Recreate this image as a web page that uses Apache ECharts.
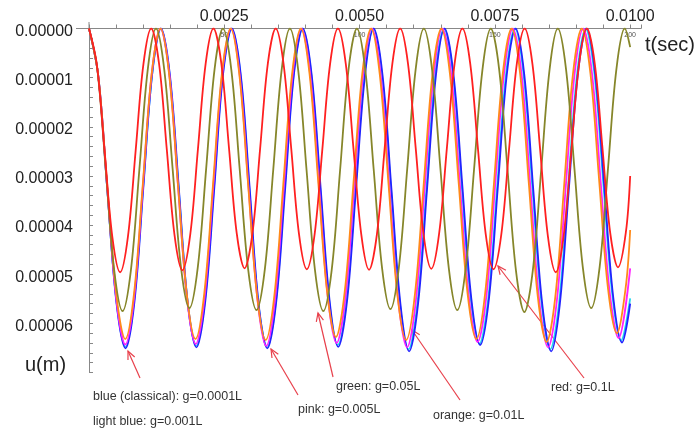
<!DOCTYPE html>
<html>
<head>
<meta charset="utf-8">
<script src="https://cdn.jsdelivr.net/npm/echarts@6/dist/echarts.min.js"></script>
<style>
  html, body { margin: 0; padding: 0; background: #fff; }
  #chart { width: 695px; height: 430px; }
</style>
</head>
<body>
<div id="chart"></div>
<script>
// time step of the solver (s); x values below are step indices
const DT = 0.00005

// red: g=0.1L  (t in steps, u in micrometres)
const redT = [0, 2.9, 5.75, 8.6, 11.5, 14.4, 17.25, 20.1,
  23, 25.9, 28.75, 31.6, 34.5, 37.4, 40.25, 43.1,
  46, 48.9, 51.75, 54.6, 57.5, 60.4, 63.25, 66.1,
  69, 71.9, 74.75, 77.6, 80.5, 83.4, 86.25, 89.1,
  92, 94.9, 97.75, 100.6, 103.5, 106.4, 109.25, 112.1,
  115, 117.9, 120.75, 123.6, 126.5, 129.4, 132.25, 135.1,
  138, 140.9, 143.75, 146.6, 149.5, 152.4, 155.25, 158.1,
  161, 163.9, 166.75, 169.6, 172.5, 175.4, 178.25, 181.1,
  184, 186.9, 189.75, 192.6, 195.5, 198.4, 200]
const redU = [0, 7.3, 24.8, 42.3, 49.6, 42.3, 24.8, 7.3,
  0, 7.2, 24.6, 42.0, 49.2, 42.0, 24.6, 7.2,
  0, 7.1, 24.4, 41.7, 48.8, 41.7, 24.4, 7.1,
  0, 7.2, 24.5, 41.8, 49.0, 41.8, 24.5, 7.2,
  0, 7.2, 24.5, 41.8, 49.1, 41.9, 24.5, 7.2,
  0, 7.2, 24.4, 41.7, 48.9, 41.7, 24.4, 7.2,
  0, 7.2, 24.5, 41.8, 49.0, 41.8, 24.5, 7.2,
  0, 7.3, 24.8, 42.3, 49.6, 42.3, 24.8, 7.3,
  0, 7.1, 24.3, 41.5, 48.6, 41.5, 30.0]

// green: g=0.05L
const greenT = [0, 3.1, 6.2, 9.3, 12.4, 15.5, 18.6, 21.7,
  24.75, 27.8, 30.9, 34.0, 37.1, 40.2, 43.3, 46.4,
  49.5, 52.6, 55.7, 58.8, 61.9, 65.0, 68.1, 71.2,
  74.25, 77.3, 80.4, 83.5, 86.6, 89.7, 92.8, 95.9,
  99, 102.1, 105.2, 108.3, 111.4, 114.5, 117.6, 120.7,
  123.75, 126.8, 129.9, 133.0, 136.1, 139.2, 142.3, 145.4,
  148.5, 151.6, 154.7, 157.8, 160.9, 164.0, 167.1, 170.2,
  173.25, 176.3, 179.4, 182.5, 185.6, 188.7, 191.8, 194.9,
  198, 200]
const greenU = [0, 8.4, 28.8, 49.1, 57.5, 49.1, 28.8, 8.4,
  0, 8.3, 28.5, 48.6, 56.9, 48.6, 28.5, 8.3,
  0, 8.4, 28.7, 48.9, 57.3, 48.9, 28.7, 8.4,
  0, 8.4, 28.8, 49.1, 57.5, 49.1, 28.8, 8.4,
  0, 8.4, 28.6, 48.7, 57.1, 48.7, 28.6, 8.4,
  0, 8.4, 28.7, 48.9, 57.3, 48.9, 28.7, 8.4,
  0, 8.4, 28.9, 49.3, 57.7, 49.3, 28.9, 8.4,
  0, 8.3, 28.5, 48.6, 56.9, 48.6, 28.5, 8.3,
  0, 3.8]

// blue (classical): g=0.0001L
const blueT = [0, 3.4, 6.75, 10.1, 13.5, 16.8, 20.05, 23.3,
  26.6, 29.9, 33.2, 36.4, 39.7, 43.0, 46.3, 49.5,
  52.8, 56.1, 59.4, 62.6, 65.9, 69.2, 72.5, 75.7,
  79.0, 82.3, 85.6, 88.9, 92.1, 95.4, 98.7, 102.0,
  105.2, 108.5, 111.8, 115.1, 118.3, 121.6, 124.9, 128.2,
  131.4, 134.7, 138.0, 141.3, 144.55, 147.8, 151.1, 154.4,
  157.65, 160.9, 164.2, 167.5, 170.8, 174.0, 177.3, 180.6,
  183.9, 187.1, 190.4, 193.7, 197.0, 200]
const blueU = [0, 9.5, 32.6, 55.6, 65.1, 55.6, 32.6, 9.5,
  0, 9.5, 32.5, 55.4, 64.9, 55.4, 32.5, 9.5,
  0, 9.5, 32.6, 55.6, 65.1, 55.6, 32.6, 9.5,
  0, 9.5, 32.4, 55.3, 64.8, 55.3, 32.4, 9.5,
  0, 9.6, 32.9, 56.1, 65.7, 56.1, 32.9, 9.6,
  0, 9.4, 32.2, 55.0, 64.4, 55.0, 32.2, 9.4,
  0, 9.6, 32.9, 56.1, 65.7, 56.1, 32.9, 9.6,
  0, 9.4, 32.0, 54.5, 63.9, 56.0]

// light blue: g=0.001L
const cyanT = [0, 3.4, 6.7, 10.1, 13.45, 16.7, 20.0, 23.3,
  26.5, 29.8, 33.1, 36.35, 39.6, 42.9, 46.2, 49.4,
  52.7, 56.0, 59.25, 62.5, 65.8, 69.1, 72.3, 75.6,
  78.9, 82.15, 85.4, 88.7, 91.95, 95.2, 98.5, 101.8,
  105.05, 108.3, 111.6, 114.85, 118.1, 121.4, 124.7, 127.9,
  131.2, 134.5, 137.75, 141.0, 144.3, 147.6, 150.85, 154.1,
  157.4, 160.65, 163.9, 167.2, 170.45, 173.75, 177.0, 180.3,
  183.55, 186.8, 190.1, 193.4, 196.65, 200]
const cyanU = [0, 9.5, 32.4, 55.3, 64.8, 55.3, 32.4, 9.5,
  0, 9.5, 32.3, 55.1, 64.6, 55.1, 32.3, 9.5,
  0, 9.5, 32.5, 55.4, 64.9, 55.4, 32.5, 9.5,
  0, 9.4, 32.2, 55.0, 64.4, 55.0, 32.2, 9.4,
  0, 9.6, 32.7, 55.7, 65.3, 55.7, 32.7, 9.6,
  0, 9.4, 32.1, 54.7, 64.1, 54.7, 32.1, 9.4,
  0, 9.6, 32.7, 55.7, 65.3, 55.7, 32.7, 9.6,
  0, 9.3, 31.8, 54.2, 63.5, 54.9]

// pink: g=0.005L
const pinkT = [0, 3.35, 6.7, 10.05, 13.4, 16.65, 19.9, 23.15,
  26.4, 29.7, 32.9, 36.2, 39.45, 42.7, 45.95, 49.2,
  52.45, 55.7, 58.95, 62.25, 65.5, 68.75, 72.0, 75.25,
  78.5, 81.75, 85.0, 88.25, 91.5, 94.8, 98.05, 101.3,
  104.55, 107.8, 111.05, 114.3, 117.55, 120.8, 124.05, 127.35,
  130.6, 133.85, 137.1, 140.35, 143.6, 146.85, 150.1, 153.35,
  156.6, 159.9, 163.15, 166.4, 169.65, 172.9, 176.15, 179.4,
  182.65, 185.9, 189.15, 192.45, 195.7, 200]
const pinkU = [0, 9.4, 32.2, 54.9, 64.3, 54.9, 32.2, 9.4,
  0, 9.4, 32.1, 54.8, 64.2, 54.8, 32.1, 9.4,
  0, 9.5, 32.3, 55.1, 64.6, 55.1, 32.3, 9.5,
  0, 9.4, 32.0, 54.6, 64.0, 54.6, 32.0, 9.4,
  0, 9.5, 32.5, 55.4, 64.9, 55.4, 32.5, 9.5,
  0, 9.3, 31.9, 54.5, 63.8, 54.5, 31.9, 9.3,
  0, 9.5, 32.5, 55.4, 64.9, 55.4, 32.5, 9.5,
  0, 9.2, 31.5, 53.8, 63.0, 48.8]

// orange: g=0.01L
const orangeT = [0, 3.35, 6.7, 10.05, 13.4, 16.65, 19.9, 23.15,
  26.4, 29.6, 32.85, 36.1, 39.35, 42.6, 45.85, 49.1,
  52.35, 55.55, 58.8, 62.05, 65.3, 68.55, 71.8, 75.05,
  78.3, 81.5, 84.75, 88.0, 91.25, 94.5, 97.75, 101.0,
  104.25, 107.45, 110.7, 113.95, 117.2, 120.45, 123.7, 126.95,
  130.2, 133.4, 136.65, 139.9, 143.15, 146.4, 149.65, 152.9,
  156.15, 159.35, 162.6, 165.85, 169.1, 172.35, 175.6, 178.85,
  182.1, 185.3, 188.55, 191.8, 195.05, 198.3, 200]
const orangeU = [0, 9.3, 31.6, 53.9, 63.2, 53.9, 31.6, 9.3,
  0, 9.3, 31.6, 53.9, 63.2, 53.9, 31.6, 9.3,
  0, 9.3, 31.7, 54.1, 63.4, 54.1, 31.7, 9.3,
  0, 9.2, 31.4, 53.6, 62.8, 53.6, 31.4, 9.2,
  0, 9.3, 31.7, 54.1, 63.4, 54.1, 31.7, 9.3,
  0, 9.3, 31.6, 53.9, 63.2, 53.9, 31.6, 9.3,
  0, 9.3, 31.9, 54.5, 63.8, 54.5, 31.9, 9.3,
  0, 9.1, 31.0, 52.9, 62.0, 52.9, 41.0]

const FONT = '"Liberation Sans", Arial, sans-serif'
const ARROW = '#e8414c'
const AXIS = '#888'

const curves = [
  { name: 'light blue', t: cyanT, u: cyanU, color: '#22d8ee' },
  { name: 'blue', t: blueT, u: blueU, color: '#2222ff' },
  { name: 'pink', t: pinkT, u: pinkU, color: '#ff22ff' },
  { name: 'orange', t: orangeT, u: orangeU, color: '#ff8a1a' },
  { name: 'green', t: greenT, u: greenU, color: '#86862a' },
  { name: 'red', t: redT, u: redU, color: '#ff2020' }
]

function arrow(x1, y1, x2, y2) {
  // tail (x1,y1) -> tip (x2,y2), open arrow head
  const a = Math.atan2(y1 - y2, x1 - x2)
  const len = 9, spread = 0.42
  const p1 = [x2 + len * Math.cos(a + spread), y2 + len * Math.sin(a + spread)]
  const p2 = [x2 + len * Math.cos(a - spread), y2 + len * Math.sin(a - spread)]
  return [
    { type: 'line', shape: { x1, y1, x2, y2 }, style: { stroke: ARROW, lineWidth: 1.2 } },
    { type: 'polyline', shape: { points: [p1, [x2, y2], p2] }, style: { stroke: ARROW, fill: null, lineWidth: 1.2 } }
  ]
}

function note(text, x, y) {
  return { type: 'text', x, y, style: { text, fontSize: 12.5, fontFamily: FONT, fill: '#333', verticalAlign: 'middle' } }
}

const chart = echarts.init(document.getElementById('chart'))

chart.setOption({
  animation: false,
  grid: { left: 89, top: 28.5, width: 552, height: 344, containLabel: false, outerBoundsMode: 'none' },
  xAxis: [
    {
      type: 'value', position: 'top', min: 0, max: 204, interval: 10,
      axisLine: { show: true, lineStyle: { color: AXIS, width: 1 } },
      axisTick: { show: true, inside: false, length: 4, lineStyle: { color: AXIS } },
      axisLabel: {
        fontSize: 16, fontFamily: FONT, color: '#222', margin: 4,
        formatter: v => (v > 0 && v % 50 === 0) ? (v * DT).toFixed(4) : ''
      },
      splitLine: { show: false }
    },
    {
      type: 'value', position: 'top', min: 0, max: 204, interval: 10,
      axisLine: { show: false }, axisTick: { show: false },
      axisLabel: {
        inside: true, fontSize: 7, fontFamily: FONT, color: '#555', margin: 3,
        formatter: v => (v > 0 && v % 50 === 0) ? String(v) : ''
      },
      splitLine: { show: false }
    }
  ],
  yAxis: {
    type: 'value', inverse: true, min: 0, max: 70, interval: 2,
    axisLine: { show: true, lineStyle: { color: AXIS, width: 1 } },
    axisTick: { show: true, inside: true, length: 4, lineStyle: { color: AXIS } },
    axisLabel: {
      fontSize: 16, fontFamily: FONT, color: '#222', margin: 16,
      verticalAlign: 'top', lineHeight: 6,
      formatter: v => (v % 10 === 0 && v < 70) ? (v * 1e-6).toFixed(5) : ''
    },
    splitLine: { show: false }
  },
  series: curves.map(c => ({
    name: c.name, type: 'line', xAxisIndex: 0,
    data: c.t.map((t, i) => [t, c.u[i]]),
    showSymbol: false, symbol: 'none', smooth: 0.35,
    lineStyle: { color: c.color, width: 1.8 },
    itemStyle: { color: c.color }
  })),
  graphic: [
    // short overhangs of the axis lines past the origin
    { type: 'line', shape: { x1: 76, y1: 28.5, x2: 89, y2: 28.5 }, style: { stroke: AXIS, lineWidth: 1 } },
    { type: 'line', shape: { x1: 89, y1: 22, x2: 89, y2: 28.5 }, style: { stroke: AXIS, lineWidth: 1 } },
    { type: 'text', x: 645, y: 45, style: { text: 't(sec)', fontSize: 20, fontFamily: FONT, fill: '#222', verticalAlign: 'middle' } },
    { type: 'text', x: 25, y: 365, style: { text: 'u(m)', fontSize: 20, fontFamily: FONT, fill: '#222', verticalAlign: 'middle' } },
    ...arrow(140, 378, 128, 351),
    ...arrow(298, 395, 271, 349),
    ...arrow(333, 377, 318, 313),
    ...arrow(460, 400, 412, 330),
    ...arrow(584, 378, 498, 266),
    note('blue (classical): g=0.0001L', 93, 397),
    note('light blue: g=0.001L', 93, 422),
    note('pink: g=0.005L', 298, 410),
    note('green: g=0.05L', 336, 387),
    note('orange: g=0.01L', 433, 416),
    note('red: g=0.1L', 551, 388)
  ]
})
</script>
</body>
</html>
